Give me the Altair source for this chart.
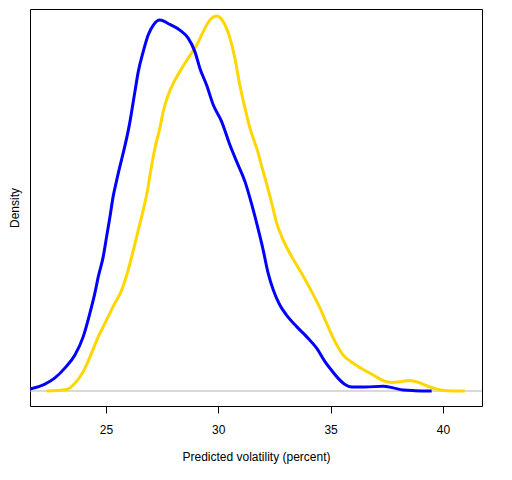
import altair as alt
import pandas as pd

# Density curves (x = predicted volatility %, y = density)
blue_x = [21.62, 22.28, 22.73, 23.18, 23.62, 23.99, 24.29, 24.51, 24.66, 24.88,
          25.03, 25.18, 25.32, 25.48, 26.07, 26.29, 26.44, 26.66, 26.88, 27.11,
          27.40, 27.85, 28.29, 28.66, 28.96, 29.18, 29.48, 29.78, 30.15, 30.52,
          30.82, 31.19, 31.49, 31.71, 32.00, 32.22, 32.45, 32.74, 33.04, 33.49,
          33.93, 34.38, 34.75, 34.97, 35.27, 35.64, 35.94, 36.53, 37.34, 37.79,
          38.23, 38.75, 39.50]
blue_y = [0.0006, 0.0022, 0.0042, 0.0074, 0.0115, 0.0174, 0.0250, 0.0314, 0.0366, 0.0430,
          0.0494, 0.0558, 0.0622, 0.0675, 0.0862, 0.0958, 0.1022, 0.1086, 0.1139, 0.1171,
          0.1187, 0.1173, 0.1155, 0.1129, 0.1086, 0.1033, 0.0979, 0.0915, 0.0862, 0.0787,
          0.0734, 0.0670, 0.0597, 0.0537, 0.0451, 0.0377, 0.0323, 0.0275, 0.0243, 0.0206,
          0.0174, 0.0137, 0.0094, 0.0073, 0.0046, 0.0021, 0.0013, 0.0013, 0.0015, 0.0010,
          0.0003, 0.0001, 0.0000]

gold_x = [22.36, 23.25, 23.62, 23.99, 24.36, 24.66, 24.96, 25.32, 25.70, 25.99,
          26.22, 26.44, 26.66, 26.88, 26.96, 27.18, 27.40, 27.55, 27.77, 28.00,
          28.29, 28.66, 29.04, 29.33, 29.63, 29.93, 30.22, 30.52, 30.74, 30.96,
          31.19, 31.41, 31.71, 32.00, 32.38, 32.60, 32.89, 33.27, 33.71, 34.16,
          34.53, 34.82, 35.12, 35.56, 36.01, 36.45, 36.90, 37.34, 37.72, 38.16,
          38.53, 38.90, 39.27, 39.72, 40.16, 40.98]
gold_y = [0.0000, 0.0005, 0.0025, 0.0062, 0.0121, 0.0174, 0.0217, 0.0270, 0.0323, 0.0387,
          0.0451, 0.0515, 0.0579, 0.0654, 0.0691, 0.0777, 0.0841, 0.0894, 0.0947, 0.0985,
          0.1022, 0.1065, 0.1107, 0.1150, 0.1187, 0.1200, 0.1182, 0.1129, 0.1065, 0.0979,
          0.0905, 0.0841, 0.0777, 0.0702, 0.0601, 0.0537, 0.0483, 0.0430, 0.0377, 0.0318,
          0.0265, 0.0217, 0.0169, 0.0115, 0.0089, 0.0069, 0.0051, 0.0033, 0.0027, 0.0030,
          0.0034, 0.0028, 0.0017, 0.0006, 0.0001, 0.0000]

x_ticks = [25, 30, 35, 40]

blue = pd.DataFrame({"x": blue_x, "y": blue_y, "i": range(len(blue_x))})
gold = pd.DataFrame({"x": gold_x, "y": gold_y, "i": range(len(gold_x))})
zero = pd.DataFrame({"y": [0.0]})

xscale = alt.Scale(domain=[21.62, 41.74], nice=False, zero=False)
yscale = alt.Scale(domain=[-0.0048, 0.12224], nice=False, zero=False)

xaxis = alt.Axis(values=x_ticks, title="Predicted volatility (percent)", grid=False,
                 domain=False, tickColor="black", tickSize=7, tickWidth=1,
                 labelPadding=11, labelFontSize=12, labelColor="black",
                 labelFont="Liberation Sans", titleFont="Liberation Sans",
                 titleFontSize=12, titleFontWeight="normal", titleColor="black",
                 titlePadding=16)
yaxis = alt.Axis(title="Density", labels=False, ticks=False, domain=False, grid=False,
                 titleFont="Liberation Sans", titleFontSize=12, titleFontWeight="normal",
                 titleColor="black", titlePadding=9)

base_rule = alt.Chart(zero).mark_rule(color="#b4b4b4", strokeWidth=1).encode(
    y=alt.Y("y:Q", scale=yscale, axis=yaxis)
)

gold_line = alt.Chart(gold).mark_line(color="#FFD700", strokeWidth=3, clip=True,
                                      interpolate="monotone").encode(
    x=alt.X("x:Q", scale=xscale, axis=xaxis),
    y=alt.Y("y:Q", scale=yscale, axis=yaxis),
    order="i:Q",
)

blue_line = alt.Chart(blue).mark_line(color="#0000FF", strokeWidth=3, clip=True,
                                      interpolate="monotone").encode(
    x=alt.X("x:Q", scale=xscale, axis=xaxis),
    y=alt.Y("y:Q", scale=yscale, axis=yaxis),
    order="i:Q",
)

chart = alt.layer(base_rule, gold_line, blue_line).properties(
    width=452, height=397,
    autosize=alt.AutoSizeParams(type="none"),
    padding={"left": 22, "top": 1, "right": 22, "bottom": 60},
).configure_view(stroke="black", strokeWidth=1)

chart.save("out.html", embed_options={"renderer": "svg", "actions": False})
